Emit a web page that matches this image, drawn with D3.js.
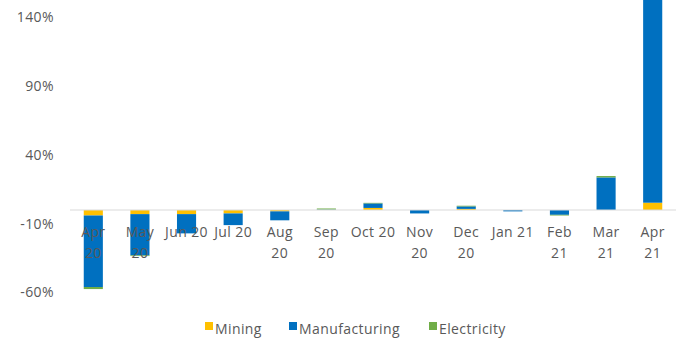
<!DOCTYPE html>
<html>
<head>
<meta charset="utf-8">
<script src="https://cdn.jsdelivr.net/npm/d3@7"></script>
<style>
  html, body { margin: 0; padding: 0; background: #fff; }
  svg { display: block; font-family: "Open Sans", "Liberation Sans", sans-serif; }
</style>
</head>
<body>
<svg id="chart" width="685" height="343"></svg>
<script>
// Monthly contributions (percentage points) by sector
const categories = ["Apr 20", "May 20", "Jun 20", "Jul 20", "Aug 20", "Sep 20", "Oct 20",
                    "Nov 20", "Dec 20", "Jan 21", "Feb 21", "Mar 21", "Apr 21"];
const mining        = [-4, -3, -3, -2.5, -1, 0, 1.5, 0, 0.8, 0, 0, 0, 5.3];
const manufacturing = [-52, -30, -14, -8.5, -6.5, 0.3, 3.3, -2.5, 1.8, -1, -3.5, 23.7, 160];
const electricity   = [-1.5, -0.5, 0, 0, 0, 0.8, 0.4, 0, 0.5, 0, -0.5, 1, 0];
const seriesNames   = ["Mining", "Manufacturing", "Electricity"];
const yTicks        = [-60, -10, 40, 90, 140];
// Category labels that stay on one line; the rest wrap at the space
const singleLineLabels = ["Jun 20", "Jul 20", "Oct 20", "Jan 21"];

const colors = { Mining: "#FFC000", Manufacturing: "#0070C0", Electricity: "#70AD47" };
const textColor = "#595959";
const fontSize = "14px";
const letterSpacing = "0.4px";

const rows = categories.map((c, i) => ({
  month: c, Mining: mining[i], Manufacturing: manufacturing[i], Electricity: electricity[i]
}));

const svg = d3.select("#chart");

const x = d3.scaleBand().domain(categories).range([70, 676]).paddingInner(0.59).paddingOuter(0.295);
const y = d3.scaleLinear().domain([-60, 140]).range([292.5, 17.5]);

const stacked = d3.stack().keys(seriesNames).offset(d3.stackOffsetDiverging)(rows);

// Y axis labels (no line, no ticks)
const yAxis = svg.append("g")
  .attr("transform", "translate(58,0)")
  .call(d3.axisLeft(y).tickValues(yTicks).tickSize(0).tickPadding(4).tickFormat(d => d + "%"));
yAxis.select(".domain").remove();
yAxis.selectAll("text").attr("fill", textColor).style("font-size", fontSize)
  .style("letter-spacing", letterSpacing)
  .style("font-family", "'Open Sans', sans-serif");

// Bars
svg.append("g").selectAll("g")
  .data(stacked)
  .join("g")
  .attr("fill", d => colors[d.key])
  .selectAll("rect")
  .data(d => d)
  .join("rect")
  .attr("x", d => x(d.data.month))
  .attr("width", x.bandwidth())
  .attr("y", d => y(Math.max(d[0], d[1])))
  .attr("height", d => Math.abs(y(d[0]) - y(d[1])));

// Zero line
svg.append("line")
  .attr("x1", 70).attr("x2", 676)
  .attr("y1", y(0)).attr("y2", y(0))
  .attr("stroke", "#d9d9d9").attr("stroke-width", 1);

// Category labels
const labels = svg.append("g");
categories.forEach(c => {
  const lines = singleLineLabels.includes(c) ? [c] : c.split(" ");
  const cx = x(c) + x.bandwidth() / 2;
  const t = labels.append("text")
    .attr("x", cx)
    .attr("y", 237)
    .attr("text-anchor", "middle")
    .attr("fill", textColor)
    .style("font-size", fontSize)
    .style("letter-spacing", letterSpacing);
  lines.forEach((ln, j) => {
    t.append("tspan").attr("x", cx).attr("dy", j === 0 ? 0 : 21).text(ln);
  });
});

// Legend
const legendX = { Mining: 205, Manufacturing: 289, Electricity: 429 };
const legend = svg.append("g");
seriesNames.forEach(name => {
  legend.append("rect")
    .attr("x", legendX[name]).attr("y", 322)
    .attr("width", 8).attr("height", 8)
    .attr("fill", colors[name]);
  legend.append("text")
    .attr("x", legendX[name] + 10).attr("y", 334)
    .attr("fill", textColor)
    .style("font-size", fontSize)
    .style("letter-spacing", letterSpacing)
    .text(name);
});
</script>
</body>
</html>
